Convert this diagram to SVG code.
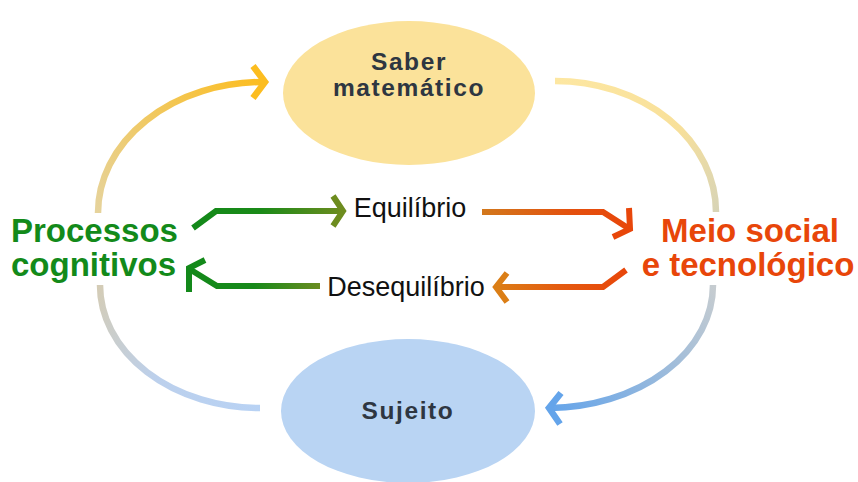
<svg xmlns="http://www.w3.org/2000/svg" width="858" height="482" viewBox="0 0 858 482">
<style>
.node-title{font-family:"Liberation Sans",Arial,sans-serif;font-weight:bold;font-size:24.5px;fill:#2e3641;letter-spacing:1.6px;text-anchor:middle}
.big{font-family:"Liberation Sans",Arial,sans-serif;font-weight:bold;font-size:33px}
.lbl{font-family:"Liberation Sans",Arial,sans-serif;font-size:27px;fill:#111;text-anchor:middle}
.arc{fill:none;stroke-width:6.5;stroke-linecap:butt;stroke-linejoin:miter}
.arr{fill:none;stroke-width:6;stroke-linecap:butt;stroke-linejoin:miter}
</style>
<defs>
<linearGradient id="gLT" gradientUnits="userSpaceOnUse" x1="98" y1="213" x2="265" y2="82"><stop offset="0" stop-color="#e6d39c"/><stop offset="1" stop-color="#fcbd20"/></linearGradient>
<linearGradient id="gRT" gradientUnits="userSpaceOnUse" x1="555" y1="81" x2="716" y2="212"><stop offset="0" stop-color="#fde7a2"/><stop offset="0.6" stop-color="#f8e09a"/><stop offset="1" stop-color="#d8d4b6"/></linearGradient>
<linearGradient id="gRB" gradientUnits="userSpaceOnUse" x1="713" y1="285" x2="548" y2="408"><stop offset="0" stop-color="#c6ccd0"/><stop offset="1" stop-color="#64a4ea"/></linearGradient>
<linearGradient id="gLB" gradientUnits="userSpaceOnUse" x1="100" y1="285" x2="260" y2="408"><stop offset="0" stop-color="#d4ccb6"/><stop offset="0.5" stop-color="#bcd0ec"/><stop offset="1" stop-color="#b8d2f4"/></linearGradient>
<linearGradient id="gG1" gradientUnits="userSpaceOnUse" x1="193" y1="0" x2="343" y2="0"><stop offset="0" stop-color="#13891a"/><stop offset="0.45" stop-color="#1a8a18"/><stop offset="1" stop-color="#6d8c1f"/></linearGradient>
<linearGradient id="gG2" gradientUnits="userSpaceOnUse" x1="187" y1="0" x2="320" y2="0"><stop offset="0" stop-color="#13891a"/><stop offset="0.5" stop-color="#17891a"/><stop offset="1" stop-color="#6a8c20"/></linearGradient>
<linearGradient id="gO1" gradientUnits="userSpaceOnUse" x1="482" y1="0" x2="632" y2="0"><stop offset="0" stop-color="#d2781c"/><stop offset="0.6" stop-color="#e4500e"/><stop offset="1" stop-color="#e8460a"/></linearGradient>
<linearGradient id="gO2" gradientUnits="userSpaceOnUse" x1="495" y1="0" x2="627" y2="0"><stop offset="0" stop-color="#db7e16"/><stop offset="0.5" stop-color="#e45a10"/><stop offset="1" stop-color="#e8460a"/></linearGradient>
</defs>
<rect width="858" height="482" fill="#ffffff"/>

<g id="connectors">
  <path class="arc" stroke="url(#gLT)" d="M98,213 A165,131 0 0 1 263,82"/>
  <polyline class="arc" stroke="#fcbd20" points="253,66 265,82 253,98"/>
  <path class="arc" stroke="url(#gRT)" d="M555,81 A161,131 0 0 1 716,212"/>
  <path class="arc" stroke="url(#gRB)" d="M713,285 A165,123 0 0 1 550,408"/>
  <polyline class="arc" stroke="#64a4ea" points="561,393 549,408 560,424"/>
  <path class="arc" stroke="url(#gLB)" d="M100,285 A160,123 0 0 0 260,408"/>

  <polyline class="arr" stroke="url(#gG1)" points="193,228 216,211 341,211"/>
  <polyline class="arr" stroke="#6d8c1f" points="333,196 343,211 333,226"/>
  <polyline class="arr" stroke="url(#gO1)" points="482,212 603,212 628,228"/>
  <polyline class="arr" stroke="#e8460a" points="629,208 630,229 613,237"/>
  <polyline class="arr" stroke="url(#gO2)" points="626,270 603,287 497,287"/>
  <polyline class="arr" stroke="#db7e16" points="507,273 496,287 507,302"/>
  <polyline class="arr" stroke="url(#gG2)" points="320,286 217,286 191,270"/>
  <polyline class="arr" stroke="#13891a" points="205,260 189,268 189,292"/>
</g>

<g id="node-saber">
  <ellipse cx="409" cy="93" rx="126" ry="72" fill="#fbe29a"/>
  <text class="node-title" x="409" y="70">Saber</text>
  <text class="node-title" x="409" y="96">matemático</text>
</g>

<g id="node-sujeito">
  <ellipse cx="408" cy="411" rx="127" ry="72" fill="#b9d4f3"/>
  <text class="node-title" x="408" y="419">Sujeito</text>
</g>

<g id="node-processos">
  <text class="big" fill="#138a1a" x="11" y="242">Processos</text>
  <text class="big" fill="#138a1a" x="11" y="276">cognitivos</text>
</g>

<g id="node-meio">
  <text class="big" fill="#e8460a" x="750" y="242" text-anchor="middle">Meio social</text>
  <text class="big" fill="#e8460a" x="748" y="276" text-anchor="middle">e tecnológico</text>
</g>

<g id="label-equilibrio">
  <text class="lbl" x="410" y="217">Equilíbrio</text>
</g>
<g id="label-desequilibrio">
  <text class="lbl" x="406" y="296">Desequilíbrio</text>
</g>
</svg>
